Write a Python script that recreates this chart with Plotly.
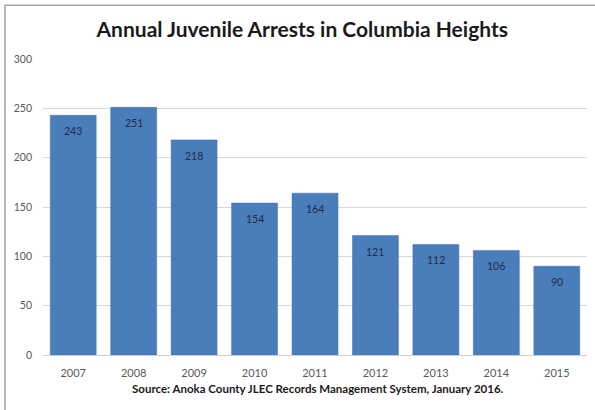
import plotly.graph_objects as go

years = ["2007", "2008", "2009", "2010", "2011", "2012", "2013", "2014", "2015"]
arrests = [243, 251, 218, 154, 164, 121, 112, 106, 90]
y_ticks = [0, 50, 100, 150, 200, 250, 300]

title_text = "Annual Juvenile Arrests in Columbia Heights"
source_text = "Source: Anoka County JLEC Records Management System, January 2016."

fig = go.Figure(go.Bar(
    x=years, y=arrests,
    marker=dict(color="#4a7ebb", line=dict(color="#3f6fa8", width=0.5)),
    hoverinfo="x+y",
))

# On a category axis, annotation x is the category's serial index.
label_annotations = [
    dict(x=i, y=v, xref="x", yref="y", text=str(v), showarrow=False,
         yshift=-16, yanchor="middle", xanchor="center",
         font=dict(family="Lato", size=10.5, color="#1f2a44"))
    for i, v in enumerate(arrests)
]

fig.update_layout(
    width=595, height=410,
    paper_bgcolor="white", plot_bgcolor="white",
    margin=dict(l=43, r=8, t=59, b=55),
    bargap=0.24,
    showlegend=False,
    title=dict(text="<b>" + title_text + "</b>", x=0.508, xanchor="center",
               y=0.927, yanchor="middle",
               font=dict(family="Lato", size=21, color="#1a1a1a")),
    font=dict(family="Lato"),
    annotations=label_annotations + [
        dict(text="<b>" + source_text + "</b>", xref="paper", yref="paper",
             x=0.505, y=-0.113, xanchor="center", yanchor="middle",
             showarrow=False, font=dict(family="Lato", size=11.5, color="#1a1a1a"))],
    shapes=[
        dict(type="line", xref="paper", yref="paper", x0=-0.0699, x1=-0.0699, y0=1.182, y1=-0.2,
             line=dict(color="#a0a0a0", width=1.5)),
        dict(type="line", xref="paper", yref="paper", x0=-0.0699, x1=1.02, y0=1.182, y1=1.182,
             line=dict(color="#a0a0a0", width=1.5)),
    ],
)
fig.update_yaxes(range=[0, 300], tickvals=y_ticks, showgrid=True, gridcolor="#d9d9d9",
                 zeroline=False, tickfont=dict(size=10.5, color="#595959"), ticks="",
                 ticklabelstandoff=10)
fig.update_xaxes(type="category", showline=True, linecolor="#d0d0d0",
                 tickfont=dict(size=11, color="#595959"), ticks="", ticklabelstandoff=8)

fig.write_html("out.html", config={"displayModeBar": False},
               post_script="document.body.style.margin='0';")
